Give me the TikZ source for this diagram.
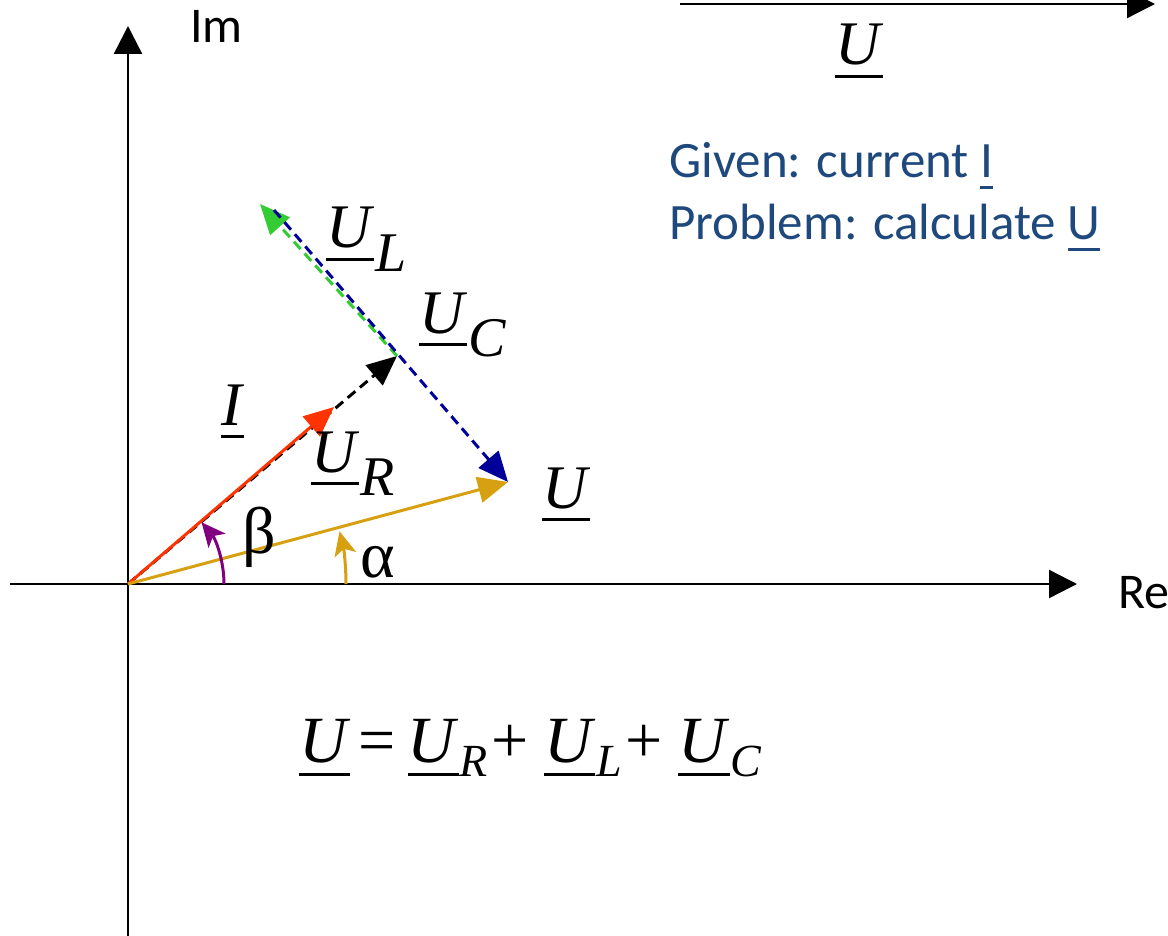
\documentclass[tikz,border=0pt]{standalone}
\usepackage{fontspec}
\setmainfont{Liberation Serif}
\setsansfont{Carlito}
\usetikzlibrary{arrows.meta}

\definecolor{redvec}{RGB}{255,51,0}
\definecolor{goldvec}{RGB}{214,160,16}
\definecolor{greenvec}{RGB}{51,204,51}
\definecolor{navyvec}{RGB}{0,0,153}
\definecolor{purplearc}{RGB}{128,0,128}
\definecolor{notetext}{RGB}{31,73,125}

% underlined phasor symbol
\newcommand{\ulvec}[1]{\setbox0=\hbox{#1}\rlap{\rule[-0.21em]{\wd0}{0.05em}}\box0}
% phasor with a lowered subscript
\newcommand{\phasor}[3]{\ulvec{\textit{U}}\kern1pt\raisebox{#3}{\fontsize{#2}{#2}\selectfont\textit{#1}}}

\begin{document}
\begin{tikzpicture}
    [
        x=1pt, y=-1pt,
        axis/.style={line width=2.4pt, -{Triangle[length=28pt, width=28pt]}},
        vec/.style={line width=3pt, -{Triangle[length=30pt, width=26pt]}},
        dvec/.style={vec, dash pattern=on 10pt off 6pt},
        angarc/.style={line width=3pt, -{Stealth[length=24pt, width=22pt, inset=6pt]}},
        lbl/.style={inner sep=0pt, anchor=base west, font=\fontsize{62}{62}\selectfont},
        greek/.style={inner sep=0pt, anchor=base west, font=\fontsize{66}{66}\selectfont},
        axlbl/.style={inner sep=0pt, anchor=base west, font=\sffamily\fontsize{50}{50}\selectfont}
    ]
        \useasboundingbox (0,0) rectangle (1168,936);
        % =========================================================================
        % COORDINATES
        % =========================================================================
        \coordinate (O) at (128,584);
        \coordinate (reStart) at (10,584);
        \coordinate (reEnd) at (1077,584);
        \coordinate (imStart) at (128,936);
        \coordinate (imEnd) at (128,26);
        \coordinate (uStart) at (680,4);
        \coordinate (uEnd) at (1155,4);
        \coordinate (iTip) at (334,407);
        \coordinate (urTip) at (397,356);
        \coordinate (ulTip) at (260,204);
        \coordinate (ucStart) at (274,210);
        \coordinate (uTip) at (508,482);
        \coordinate (betaStart) at (224,584);
        \coordinate (alphaStart) at (346,584);

        % =========================================================================
        % AXES
        % =========================================================================
        \draw [axis] (reStart) -- (reEnd);
        \draw [axis] (imStart) -- (imEnd);
        \node [axlbl] (im) at (190,43) {Im};
        \node [axlbl] (re) at (1118,608) {Re};
        % --- reference U ---
        \draw [axis] (uStart) -- (uEnd);
        \node [lbl] (uTop) at (835,65) {\ulvec{\textit{U}}};

        % =========================================================================
        % PHASORS
        % =========================================================================
        \draw [dvec, black] (O) -- (urTip);
        \draw [vec, redvec] (O) -- (iTip);
        \draw [dvec, greenvec] (urTip) -- (ulTip);
        \draw [dvec, navyvec] (ucStart) -- (uTip);
        \draw [vec, goldvec] (O) -- (uTip);
        % --- angles ---
        \draw [angarc, purplearc] (betaStart) arc [start angle=0, end angle=-40, radius=96];
        \draw [angarc, goldvec] (alphaStart) arc [start angle=0, end angle=-14, radius=218];

        % =========================================================================
        % LABELS
        % =========================================================================
        \node [lbl] (lblI) at (221,425) {\ulvec{\textit{I}}};
        \node [lbl] (lblUL) at (326,248) {\phasor{L}{56}{-0.38em}};
        \node [lbl] (lblUC) at (419,333) {\phasor{C}{56}{-0.38em}};
        \node [lbl] (lblUR) at (311,472) {\phasor{R}{56}{-0.38em}};
        \node [lbl] (lblU) at (542,508) {\ulvec{\textit{U}}};
        \node [greek] (beta) at (242,553) {β};
        \node [greek] (alpha) at (360,577) {α};
        % --- equation ---
        \node [inner sep=0pt, anchor=base west, font=\fontsize{66}{66}\selectfont] (eq) at (299,762)
            {\ulvec{\textit{U}}\kern8pt=\kern12pt\phasor{R}{46}{-0.22em}\kern3pt+\kern16pt\phasor{L}{46}{-0.22em}\kern3pt+\kern16pt\phasor{C}{46}{-0.22em}};
        % --- note ---
        \node [inner sep=0pt, anchor=base west, align=left, text=notetext,
               font=\sffamily\fontsize{51}{62}\selectfont] (note) at (669,240)
            {Given: current \ulvec{I}\\Problem: calculate \ulvec{U}};

    \end{tikzpicture}
\end{document}
